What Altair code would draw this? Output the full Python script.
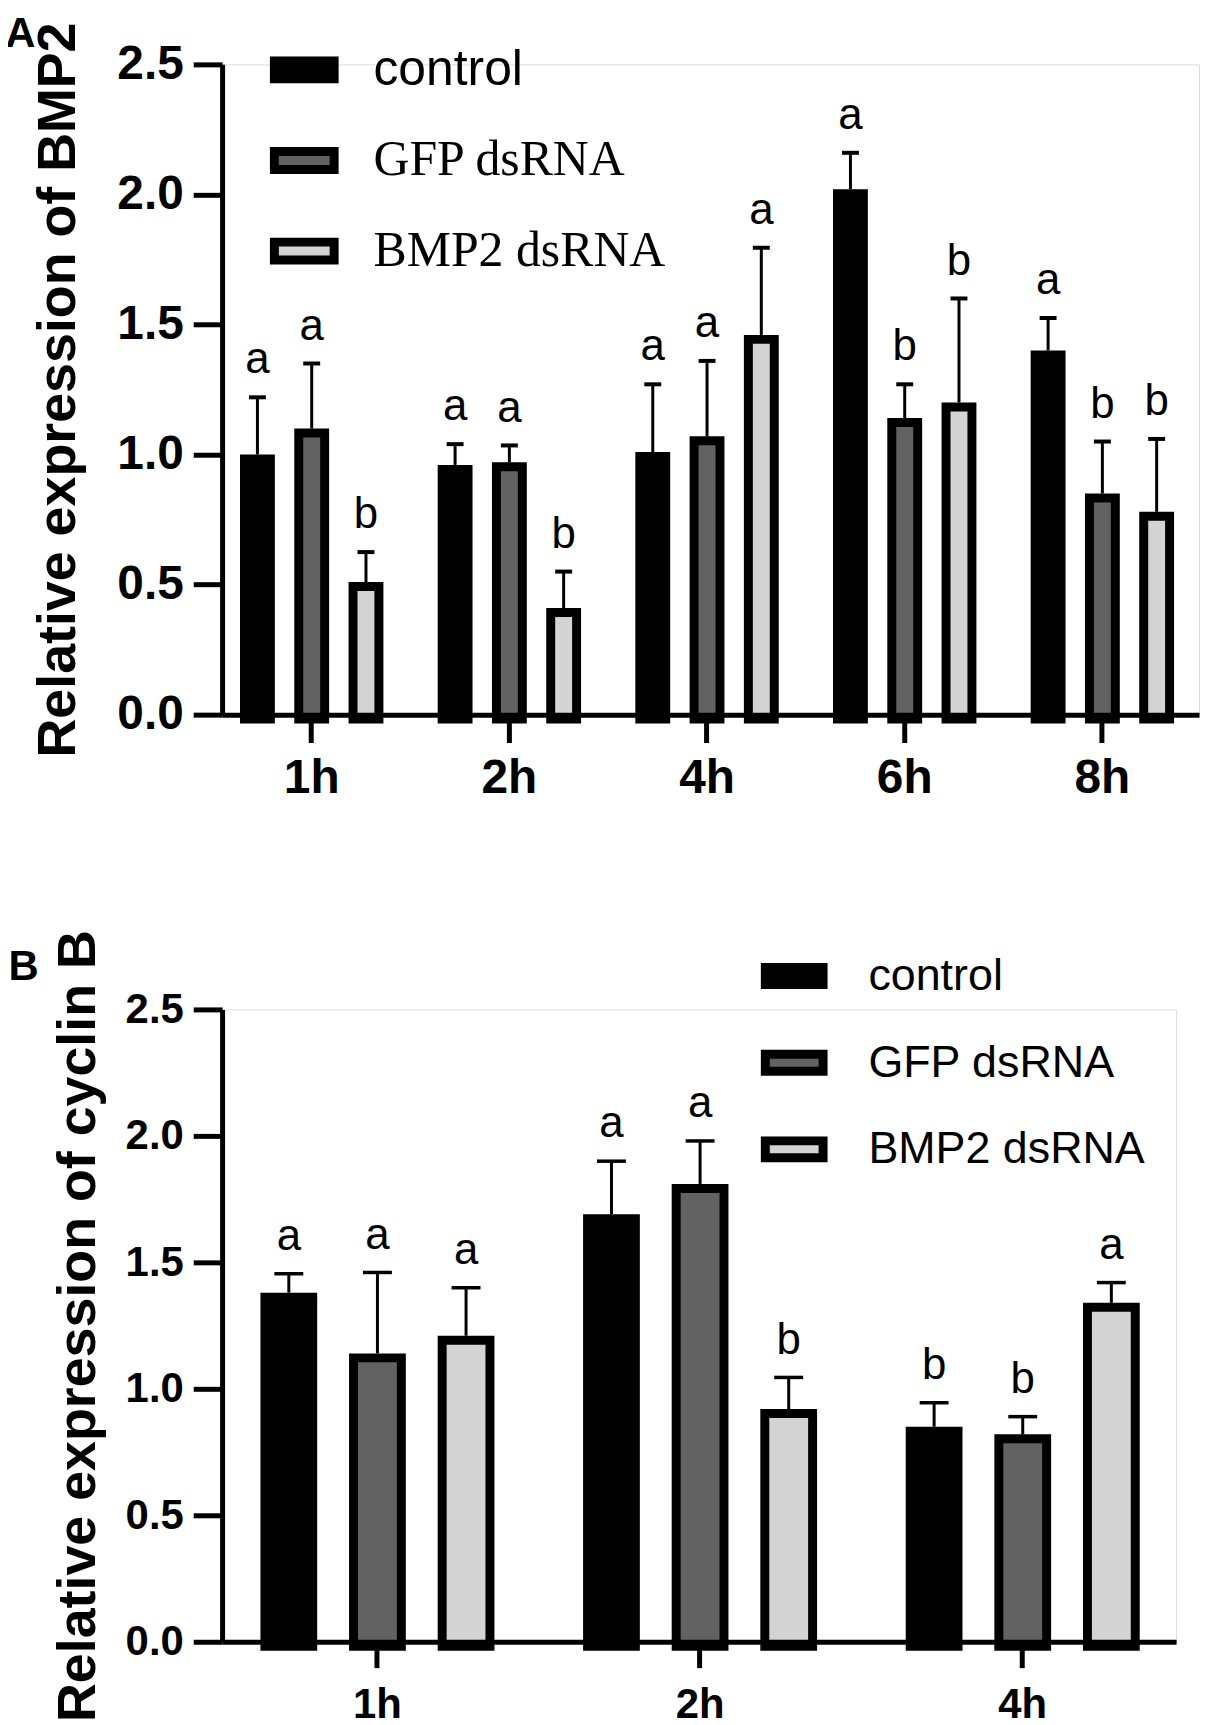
import altair as alt
import pandas as pd

groups = ["control", "GFP dsRNA", "BMP2 dsRNA"]
fill_colors = ["#000000", "#626262", "#d3d3d3"]

# Panel A: BMP2
a_times = ["1h", "2h", "4h", "6h", "8h"]
a_control = [1.00, 0.96, 1.01, 2.02, 1.40]
a_control_err = [0.22, 0.08, 0.26, 0.14, 0.125]
a_gfp = [1.10, 0.97, 1.07, 1.14, 0.85]
a_gfp_err = [0.25, 0.065, 0.29, 0.13, 0.20]
a_bmp2 = [0.51, 0.41, 1.46, 1.20, 0.78]
a_bmp2_err = [0.115, 0.14, 0.335, 0.40, 0.28]
a_let_control = ["a", "a", "a", "a", "a"]
a_let_gfp = ["a", "a", "a", "b", "b"]
a_let_bmp2 = ["b", "b", "a", "b", "b"]

# Panel B: cyclin B
b_times = ["1h", "2h", "4h"]
b_control = [1.38, 1.69, 0.85]
b_control_err = [0.075, 0.21, 0.095]
b_gfp = [1.14, 1.81, 0.82]
b_gfp_err = [0.32, 0.17, 0.07]
b_bmp2 = [1.21, 0.92, 1.34]
b_bmp2_err = [0.19, 0.125, 0.08]
b_let_control = ["a", "a", "b"]
b_let_gfp = ["a", "a", "b"]
b_let_bmp2 = ["a", "b", "a"]

y_ticks = [0.0, 0.5, 1.0, 1.5, 2.0, 2.5]


def long_table(times, series, errs, letters):
    rows = []
    for g, vals, es, ls in zip(groups, series, errs, letters):
        for t, v, e, l in zip(times, vals, es, ls):
            rows.append({"time": t, "group": g, "mean": v, "upper": v + e, "letter": l})
    return pd.DataFrame(rows)


def panel(df, times, ytitle, letter, p):
    x = alt.X(
        "time:N", sort=times, title=None,
        scale=alt.Scale(paddingInner=p["pi"], paddingOuter=p["po"], align=p["align"]),
        axis=alt.Axis(labelAngle=0, labelFont="Liberation Sans", labelFontWeight="bold",
                      labelFontSize=p["xfont"], labelColor="black", domainColor="black",
                      domainWidth=5, tickColor="black", tickWidth=5, tickSize=p["xtick"],
                      labelPadding=p["xpad"], zindex=1),
    )
    xo = alt.XOffset("group:N", sort=groups, scale=alt.Scale(paddingInner=0, paddingOuter=0))
    yaxis = alt.Axis(values=y_ticks, format=".1f", grid=False, labelFont="Liberation Sans",
                     labelFontWeight="bold", labelFontSize=p["yfont"], labelColor="black",
                     domainColor="black", domainWidth=5, tickColor="black", tickWidth=5,
                     tickSize=29, labelPadding=10, title=ytitle, titleFont="Liberation Sans",
                     titleFontWeight="bold", titleFontSize=54, titleColor="black",
                     titlePadding=p["tpad"], zindex=1)
    yscale = alt.Scale(domain=[0, 2.5], nice=False, zero=True)

    legend = alt.Legend(
        title=None, orient="none", legendX=p["lx"], legendY=p["ly"],
        symbolType=p["path"], symbolSize=p["ssize"], symbolStrokeColor="black",
        symbolStrokeWidth=9, symbolOpacity=1,
        labelFont={"expr": p["lfont"]}, labelFontSize=p["lsize"], labelColor="black",
        labelOffset=p["loff"], rowPadding=p["rowpad"], padding=0, labelLimit=0,
    )

    bars = alt.Chart(df).mark_bar(
        width=p["barw"], stroke="black", strokeWidth=9, yOffset=4.5, y2Offset=-4.5
    ).encode(
        x=x, xOffset=xo,
        y=alt.Y("mean:Q", scale=yscale, axis=yaxis),
        fill=alt.Fill("group:N", sort=groups,
                      scale=alt.Scale(domain=groups, range=fill_colors), legend=legend),
    )
    stems = alt.Chart(df).mark_rule(strokeWidth=3, color="black").encode(
        x=x, xOffset=xo,
        y=alt.Y("mean:Q", scale=yscale, axis=yaxis), y2="upper:Q",
    )
    caps = alt.Chart(df).mark_tick(size=p["capw"], thickness=p["capt"], color="black",
                                   opacity=1).encode(
        x=x, xOffset=xo, y=alt.Y("upper:Q", scale=yscale, axis=yaxis),
    )
    letters = alt.Chart(df).mark_text(
        dy=-24, baseline="alphabetic", fontSize=44, font="Liberation Sans", color="black"
    ).encode(
        x=x, xOffset=xo, y=alt.Y("upper:Q", scale=yscale, axis=yaxis), text="letter:N",
    )
    return alt.layer(stems, bars, caps, letters).properties(
        width=p["w"], height=p["h"],
        title=alt.TitleParams(text=letter, anchor="start", frame="bounds", fontSize=42,
                              font="Liberation Sans", fontWeight="bold", color="black",
                              baseline="alphabetic", dx=p["tdx"], offset=p["toff"]),
    )


df_a = long_table(a_times, [a_control, a_gfp, a_bmp2],
                  [a_control_err, a_gfp_err, a_bmp2_err],
                  [a_let_control, a_let_gfp, a_let_bmp2])
df_b = long_table(b_times, [b_control, b_gfp, b_bmp2],
                  [b_control_err, b_gfp_err, b_bmp2_err],
                  [b_let_control, b_let_gfp, b_let_bmp2])

pa = dict(w=981, h=653, pi=0.1763, po=0.0592, align=0.35, xfont=48, yfont=48, xtick=28,
          xpad=12, tpad=31, lx=48, ly=-29, path="M-1,-0.3H1V0.3H-1Z", ssize=3600,
          lfont="datum.label == 'control' ? 'Liberation Sans' : 'Liberation Serif'",
          lsize=50, loff=35, rowpad=29, barw=26, capw=17, capt=4, tdx=-27, toff=-67)
pb = dict(w=958, h=635, pi=0.176, po=0.0664, align=0.523, xfont=42, yfont=42, xtick=26,
          xpad=17, tpad=20, lx=541, ly=-67, path="M-1,-0.293H1V0.293H-1Z", ssize=3364,
          lfont="'Liberation Sans'", lsize=45, loff=41, rowpad=27, barw=48, capw=29,
          capt=3.5, tdx=-43, toff=-93)

chart_a = panel(df_a, a_times, "Relative expression of BMP2", "A", pa)
chart_b = panel(df_b, b_times, "Relative expression of cyclin B", "B", pb)

chart = alt.vconcat(chart_a, chart_b, spacing=126).resolve_scale(
    x="independent", xOffset="independent", y="independent", fill="independent"
).resolve_legend(fill="independent").properties(
    padding={"left": -4, "top": 0, "right": 0, "bottom": 0}
).configure_view(stroke=None).configure(background="white")

chart.save("out.html", embed_options={"renderer": "svg", "actions": False})
